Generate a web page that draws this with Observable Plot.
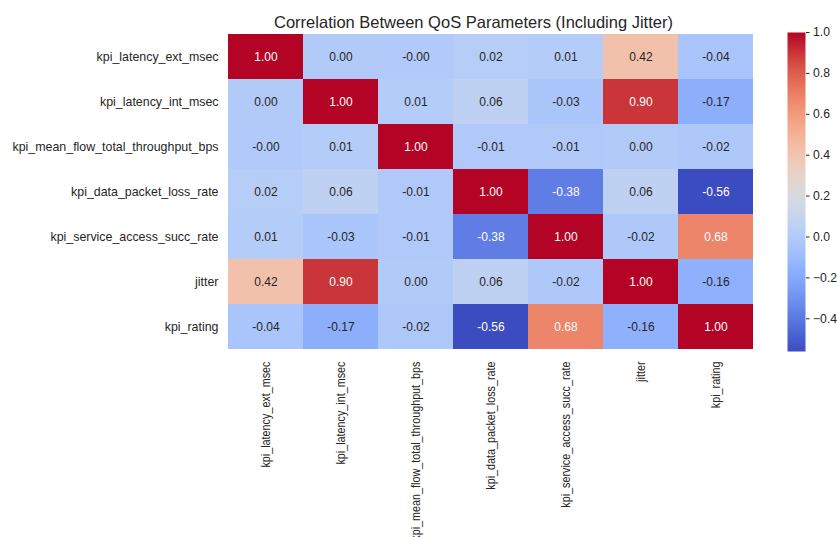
<!DOCTYPE html>
<html>
<head>
<meta charset="utf-8">
<script src="https://cdn.jsdelivr.net/npm/d3@7"></script>
<script src="https://cdn.jsdelivr.net/npm/@observablehq/plot@0.6"></script>
<style>
  html, body { margin: 0; padding: 0; background: #fff; }
  #wrap { position: relative; width: 837px; height: 537px; overflow: hidden; font-family: "Liberation Sans", Arial, sans-serif; }
  #wrap > svg, #wrap > figure { position: absolute; left: 0; top: 0; margin: 0; }
</style>
</head>
<body>
<div id="wrap"></div>
<script>
const variables = [
  "kpi_latency_ext_msec",
  "kpi_latency_int_msec",
  "kpi_mean_flow_total_throughput_bps",
  "kpi_data_packet_loss_rate",
  "kpi_service_access_succ_rate",
  "jitter",
  "kpi_rating"
];
const row_latency_ext = [1.00, 0.00, -0.004, 0.02, 0.01, 0.42, -0.04];
const row_latency_int = [0.00, 1.00, 0.01, 0.06, -0.03, 0.90, -0.17];
const row_throughput  = [-0.004, 0.01, 1.00, -0.01, -0.01, 0.00, -0.02];
const row_packet_loss = [0.02, 0.06, -0.01, 1.00, -0.38, 0.06, -0.56];
const row_access_succ = [0.01, -0.03, -0.01, -0.38, 1.00, -0.02, 0.68];
const row_jitter      = [0.42, 0.90, 0.00, 0.06, -0.02, 1.00, -0.16];
const row_rating      = [-0.04, -0.17, -0.02, -0.56, 0.68, -0.16, 1.00];
const rows = [row_latency_ext, row_latency_int, row_throughput, row_packet_loss, row_access_succ, row_jitter, row_rating];
const colorbarTicks = [-0.4, -0.2, 0.0, 0.2, 0.4, 0.6, 0.8, 1.0];
const title = "Correlation Between QoS Parameters (Including Jitter)";

const cells = [];
rows.forEach((r, i) => r.forEach((v, j) => cells.push({row: variables[i], col: variables[j], value: v})));

const coolwarm = ["#3b4cc0","#5977e3","#7b9ff9","#9ebeff","#c0d4f5","#dddcdc","#f2cbb7","#f7ac8e","#ee8468","#d65244","#b40426"];
const interp = d3.interpolateRgbBasis(coolwarm);
const vmin = d3.min(cells, d => d.value), vmax = d3.max(cells, d => d.value);
const textColor = "#262626";
const font = "'Liberation Sans', Arial, sans-serif";

const W = 837, H = 537;
const L = 227, R = 754, T = 32, B = 351;

const main = Plot.plot({
  width: W, height: H,
  marginLeft: L, marginRight: W - R, marginTop: T, marginBottom: H - B,
  style: {fontFamily: font, fontSize: "12.4px", color: textColor, background: "white"},
  x: {domain: variables, padding: 0, label: null, tickSize: 0, tickPadding: 10, tickRotate: -90},
  y: {domain: variables, padding: 0, label: null, tickSize: 0, tickPadding: 9},
  color: {type: "linear", domain: [vmin, vmax], interpolate: interp},
  marks: [
    Plot.cell(cells, {x: "col", y: "row", fill: "value", inset: 0}),
    Plot.text(cells, {
      x: "col", y: "row",
      text: d => d.value.toFixed(2),
      fill: d => (d.value >= 0.6 || d.value <= -0.3) ? "white" : textColor,
      fontSize: 12
    }),
    Plot.text([title], {frameAnchor: "top", lineAnchor: "bottom", dy: -5, dx: -17.5, fontSize: 16.5, fill: textColor})
  ]
});

const cb = Plot.plot({
  width: W, height: H,
  marginLeft: 787, marginRight: W - 805, marginTop: T, marginBottom: H - B,
  style: {fontFamily: font, fontSize: "12.2px", color: textColor, background: "transparent"},
  x: {axis: null, domain: [0, 1]},
  y: {domain: [vmin, vmax], axis: "right", ticks: colorbarTicks, tickFormat: d3.format(".1f"), tickSize: 3.5, tickPadding: 4, label: null},
  marks: [
    Plot.frame({fill: "url(#cbgrad)", stroke: "none"})
  ]
});
const defs = d3.select(cb).insert("defs", ":first-child");
const grad = defs.append("linearGradient").attr("id", "cbgrad").attr("x1", 0).attr("y1", 1).attr("x2", 0).attr("y2", 0);
d3.range(0, 1.0001, 0.02).forEach(t => grad.append("stop").attr("offset", t).attr("stop-color", interp(t)));

const wrap = document.getElementById("wrap");
wrap.appendChild(main);
wrap.appendChild(cb);

// condense x tick labels as in the reference
d3.select(main).selectAll("g[aria-label='x-axis tick label'] text").each(function() {
  const len = this.getComputedTextLength();
  d3.select(this).attr("textLength", len * 0.87).attr("lengthAdjust", "spacingAndGlyphs");
});
</script>
</body>
</html>
